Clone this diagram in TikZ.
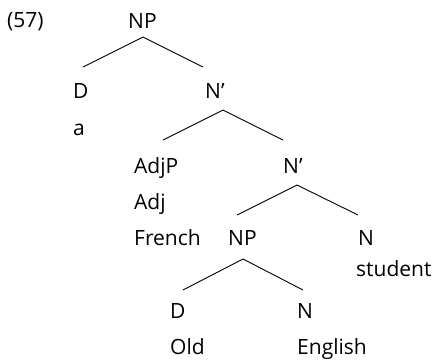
\documentclass[tikz,border=0pt]{standalone}
\usepackage{fontspec}
\setmainfont{Open Sans}
\usepackage{tikz}
\begin{document}
\begin{tikzpicture}[x=1pt, y=-1pt,
  lbl/.style={anchor=base west, inner sep=0pt, font=\fontsize{21}{25}\selectfont},
  br/.style={line width=0.9pt}]
\useasboundingbox (0,0) rectangle (435,360);
\node[lbl] (ex) at (7,27) {(57)};
\node[lbl] (np) at (128,28) {NP};
\node[lbl] (d) at (73,98) {D};
\node[lbl] (nb) at (205,98) {N’};
\node[lbl] (a) at (73,135) {a};
\node[lbl] (adjp) at (134,173) {AdjP};
\node[lbl] (nbb) at (283,173) {N’};
\node[lbl] (adj) at (134,209) {Adj};
\node[lbl] (french) at (134,245) {French};
\node[lbl] (npo) at (228,245) {NP};
\node[lbl] (n) at (358,245) {N};
\node[lbl] (student) at (356,276) {student};
\node[lbl] (do) at (170,318) {D};
\node[lbl] (ne) at (297,318) {N};
\node[lbl] (old) at (170,354) {Old};
\node[lbl] (english) at (297,354) {English};
\draw[br] ([shift={(15pt,-9pt)}]np.base west) -- ([shift={(10pt,31pt)}]d.base west);
\draw[br] ([shift={(15pt,-9pt)}]np.base west) -- ([shift={(-2pt,31pt)}]nb.base west);
\draw[br] ([shift={(18pt,-12pt)}]nb.base west) -- ([shift={(29pt,33pt)}]adjp.base west);
\draw[br] ([shift={(18pt,-12pt)}]nb.base west) -- ([shift={(0pt,33pt)}]nbb.base west);
\draw[br] ([shift={(14pt,-12pt)}]nbb.base west) -- ([shift={(9pt,30pt)}]npo.base west);
\draw[br] ([shift={(14pt,-12pt)}]nbb.base west) -- ([shift={(0pt,30pt)}]n.base west);
\draw[br] ([shift={(15pt,-14pt)}]npo.base west) -- ([shift={(13pt,28pt)}]do.base west);
\draw[br] ([shift={(15pt,-14pt)}]npo.base west) -- ([shift={(6pt,28pt)}]ne.base west);
\end{tikzpicture}
\end{document}
